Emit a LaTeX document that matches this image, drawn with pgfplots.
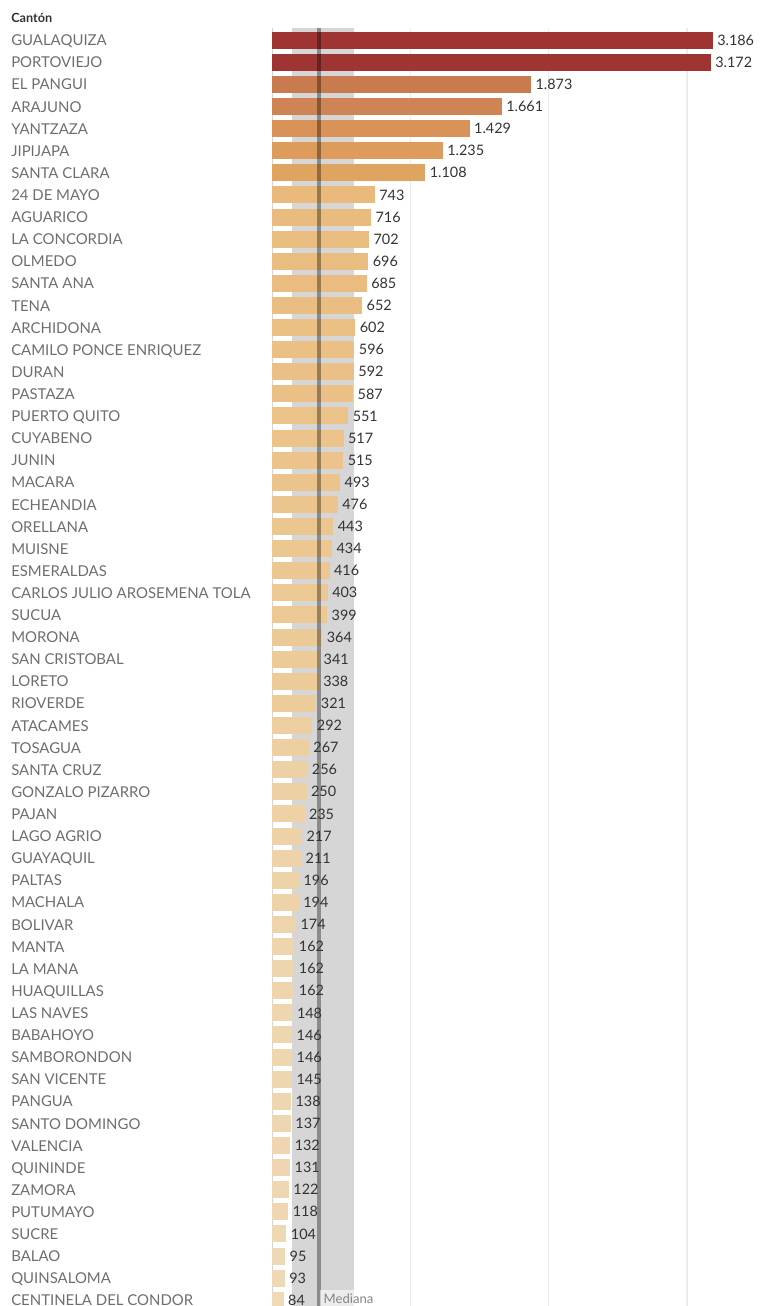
\documentclass[border=0pt]{standalone}
\usepackage{fontspec}
\setmainfont{Lato}
\usepackage{pgfplots}
\pgfplotsset{compat=1.18}
\definecolor{cA}{HTML}{EFD9B6}
\definecolor{cB}{HTML}{ECC892}
\definecolor{cC}{HTML}{E9BA7C}
\definecolor{cD}{HTML}{E0A461}
\definecolor{cE}{HTML}{DD9C5C}
\definecolor{cF}{HTML}{D99358}
\definecolor{cG}{HTML}{CF8553}
\definecolor{cH}{HTML}{C97B4F}
\definecolor{cI}{HTML}{9E3533}
\definecolor{bandgray}{HTML}{D6D6D6}
\definecolor{gridgray}{HTML}{EBEBEB}
\definecolor{labelgray}{HTML}{6E6E6E}
\definecolor{valgray}{HTML}{333333}
\pgfplotsset{
  bb/.style={xbar, bar width=0.77, bar shift=0pt, draw=none, fill=#1,
    point meta=x, nodes near coords,
    every node near coord/.append style={font=\fontsize{10.8pt}{12pt}\selectfont, text=valgray, inner sep=3.2pt}},
}
\begin{document}
\begin{tikzpicture}
\begin{axis}[
  scale only axis, width=373.5pt, height=958.5pt,
  xmin=0, xmax=3600, ymin=-0.55, ymax=57.26,
  y dir=reverse,
  axis line style={draw=none},
  tick style={draw=none},
  xtick={1000,2000,3000}, xticklabels={},
  xmajorgrids, major grid style={gridgray, line width=0.8pt},
  extra x ticks={0}, extra x tick labels={},
  extra x tick style={grid=major, major grid style={color=gridgray!80!gray, line width=0.6pt}},
  ytick={0,...,57},
  yticklabels={GUALAQUIZA,PORTOVIEJO,EL PANGUI,ARAJUNO,YANTZAZA,JIPIJAPA,SANTA CLARA,24 DE MAYO,AGUARICO,LA CONCORDIA,OLMEDO,SANTA ANA,TENA,ARCHIDONA,CAMILO PONCE ENRIQUEZ,DURAN,PASTAZA,PUERTO QUITO,CUYABENO,JUNIN,MACARA,ECHEANDIA,ORELLANA,MUISNE,ESMERALDAS,CARLOS JULIO AROSEMENA TOLA,SUCUA,MORONA,SAN CRISTOBAL,LORETO,RIOVERDE,ATACAMES,TOSAGUA,SANTA CRUZ,GONZALO PIZARRO,PAJAN,LAGO AGRIO,GUAYAQUIL,PALTAS,MACHALA,BOLIVAR,MANTA,LA MANA,HUAQUILLAS,LAS NAVES,BABAHOYO,SAMBORONDON,SAN VICENTE,PANGUA,SANTO DOMINGO,VALENCIA,QUININDE,ZAMORA,PUTUMAYO,SUCRE,BALAO,QUINSALOMA,CENTINELA DEL CONDOR},
  yticklabel style={anchor=base west, inner sep=0pt, xshift=-195.75pt, yshift=-4.2pt, text=labelgray, font=\fontsize{11.2pt}{13pt}\selectfont},
  /pgf/number format/fixed,
  /pgf/number format/precision=0,
  /pgf/number format/1000 sep={.},
  /pgf/number format/assume math mode=true,
]
% shaded band behind the bars
\addplot[draw=none, fill=bandgray, forget plot] coordinates {(145,-0.55) (592,-0.55) (592,57.3) (145,57.3)} -- cycle;
\addplot[bb=cI] coordinates {(3186,0)};
\addplot[bb=cI] coordinates {(3172,1)};
\addplot[bb=cH] coordinates {(1873,2)};
\addplot[bb=cG] coordinates {(1661,3)};
\addplot[bb=cF] coordinates {(1429,4)};
\addplot[bb=cE] coordinates {(1235,5)};
\addplot[bb=cD] coordinates {(1108,6)};
\addplot[bb=cC] coordinates {(743,7)};
\addplot[bb=cC!92!cB] coordinates {(716,8)};
\addplot[bb=cC!88!cB] coordinates {(702,9)};
\addplot[bb=cC!86!cB] coordinates {(696,10)};
\addplot[bb=cC!83!cB] coordinates {(685,11)};
\addplot[bb=cC!73!cB] coordinates {(652,12)};
\addplot[bb=cC!59!cB] coordinates {(602,13)};
\addplot[bb=cC!57!cB] coordinates {(596,14)};
\addplot[bb=cC!56!cB] coordinates {(592,15)};
\addplot[bb=cC!55!cB] coordinates {(587,16)};
\addplot[bb=cC!44!cB] coordinates {(551,17)};
\addplot[bb=cC!34!cB] coordinates {(517,18)};
\addplot[bb=cC!34!cB] coordinates {(515,19)};
\addplot[bb=cC!27!cB] coordinates {(493,20)};
\addplot[bb=cC!22!cB] coordinates {(476,21)};
\addplot[bb=cC!13!cB] coordinates {(443,22)};
\addplot[bb=cC!10!cB] coordinates {(434,23)};
\addplot[bb=cC!5!cB] coordinates {(416,24)};
\addplot[bb=cC!1!cB] coordinates {(403,25)};
\addplot[bb=cB] coordinates {(399,26)};
\addplot[bb=cB!89!cA] coordinates {(364,27)};
\addplot[bb=cB!81!cA] coordinates {(341,28)};
\addplot[bb=cB!80!cA] coordinates {(338,29)};
\addplot[bb=cB!75!cA] coordinates {(321,30)};
\addplot[bb=cB!66!cA] coordinates {(292,31)};
\addplot[bb=cB!58!cA] coordinates {(267,32)};
\addplot[bb=cB!54!cA] coordinates {(256,33)};
\addplot[bb=cB!53!cA] coordinates {(250,34)};
\addplot[bb=cB!48!cA] coordinates {(235,35)};
\addplot[bb=cB!42!cA] coordinates {(217,36)};
\addplot[bb=cB!40!cA] coordinates {(211,37)};
\addplot[bb=cB!35!cA] coordinates {(196,38)};
\addplot[bb=cB!35!cA] coordinates {(194,39)};
\addplot[bb=cB!28!cA] coordinates {(174,40)};
\addplot[bb=cB!25!cA] coordinates {(162,41)};
\addplot[bb=cB!25!cA] coordinates {(162,42)};
\addplot[bb=cB!25!cA] coordinates {(162,43)};
\addplot[bb=cB!20!cA] coordinates {(148,44)};
\addplot[bb=cB!20!cA] coordinates {(146,45)};
\addplot[bb=cB!20!cA] coordinates {(146,46)};
\addplot[bb=cB!19!cA] coordinates {(145,47)};
\addplot[bb=cB!17!cA] coordinates {(138,48)};
\addplot[bb=cB!17!cA] coordinates {(137,49)};
\addplot[bb=cB!15!cA] coordinates {(132,50)};
\addplot[bb=cB!15!cA] coordinates {(131,51)};
\addplot[bb=cB!12!cA] coordinates {(122,52)};
\addplot[bb=cB!11!cA] coordinates {(118,53)};
\addplot[bb=cB!6!cA] coordinates {(104,54)};
\addplot[bb=cB!3!cA] coordinates {(95,55)};
\addplot[bb=cB!3!cA] coordinates {(93,56)};
\addplot[bb=cA] coordinates {(84,57)};
% median line
\addplot[draw=black, draw opacity=0.35, line width=2.4pt, forget plot] coordinates {(339.5,-0.55) (339.5,57.3)};
\node[anchor=north west, inner sep=0pt, minimum height=13pt, fill=white, fill opacity=0.55, text opacity=1, text=labelgray!85!white, font=\fontsize{9.8pt}{11pt}\selectfont] at (axis cs:348,56.53) {\hspace{2.5pt}Mediana\hspace{3pt}};
\coordinate (TL) at (axis cs:0,-0.55);
\coordinate (BR) at (axis cs:3600,57.26);
\end{axis}
\node[anchor=base west, inner sep=0pt, font=\fontsize{9.5pt}{11pt}\selectfont\bfseries, text=valgray] at ([shift={(-195.75pt,3.75pt)}]TL) {Cantón};
\pgfresetboundingbox
\path[use as bounding box] ([shift={(-204pt,21pt)}]TL) rectangle (BR);
\end{tikzpicture}
\end{document}
